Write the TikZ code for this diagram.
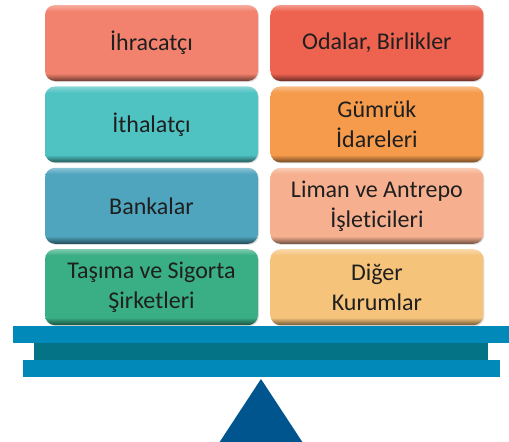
\documentclass[tikz,border=0pt]{standalone}
\usepackage{fontspec}
\setmainfont{Carlito}[Ligatures=NoCommon]
\usepackage{xcolor}
\definecolor{colorIhr}{RGB}{242,130,110}
\definecolor{colorOda}{RGB}{238,99,80}
\definecolor{colorIth}{RGB}{79,194,194}
\definecolor{colorGum}{RGB}{245,155,75}
\definecolor{colorBan}{RGB}{79,164,190}
\definecolor{colorLim}{RGB}{246,176,143}
\definecolor{colorTas}{RGB}{58,174,133}
\definecolor{colorDig}{RGB}{245,195,122}
\definecolor{colorBar}{RGB}{0,137,185}
\definecolor{colorBarDark}{RGB}{3,115,133}
\definecolor{colorTepe}{RGB}{0,85,142}
\colorlet{kurumcolor}{colorIhr}
\usepackage{tikz}
\usetikzlibrary{positioning, shadows}
\pgfdeclareverticalshading[kurumcolor]{kurumshade}{100bp}{%
  color(0bp)=(kurumcolor!45!black); color(25bp)=(kurumcolor!45!black);
  color(30bp)=(kurumcolor); color(71bp)=(kurumcolor);
  color(75bp)=(kurumcolor!65!white); color(100bp)=(kurumcolor!65!white)}
\tikzset{
  kurum/.style={rectangle, rounded corners=10pt, minimum width=213pt, minimum height=76pt,
    inner sep=0pt, align=center, text=black!88, font=\fontsize{24}{30}\selectfont,
    /utils/exec={\colorlet{kurumcolor}{#1}}, shading=kurumshade,
    drop shadow={shadow xshift=1pt, shadow yshift=-1pt, opacity=.25}},
  kiris/.style={rectangle, inner sep=0pt, minimum height=17pt, fill=#1}
}

\begin{document}
\begin{tikzpicture}[x=1pt, y=-1pt, node distance=5pt and 12pt]
\useasboundingbox (0,0) rectangle (509,442);
% kutular
\node[kurum=colorIhr] (ihr) at (151.5,43) {İhracatçı};
\node[kurum=colorOda, right=of ihr] (oda) {Odalar, Birlikler};
\node[kurum=colorIth, below=of ihr] (ith) {İthalatçı};
\node[kurum=colorGum, right=of ith] (gum) {Gümrük\\İdareleri};
\node[kurum=colorBan, below=of ith] (ban) {Bankalar};
\node[kurum=colorLim, right=of ban] (lim) {Liman ve Antrepo\\İşleticileri};
\node[kurum=colorTas, below=of ban] (tas) {Taşıma ve Sigorta\\Şirketleri};
\node[kurum=colorDig, right=of tas] (dig) {Diğer\\Kurumlar};
% terazi
\node[kiris=colorBar, minimum width=496pt] (ust) at (261,334.5) {};
\node[kiris=colorBarDark, minimum width=454pt, below=0pt of ust] (orta) {};
\node[kiris=colorBar, minimum width=477pt, below=-1pt of orta] (alt) {};
\coordinate[below=2pt of alt] (tepe);
\fill[colorTepe] (tepe) -- ++(42,64) -- ++(-84,0) -- cycle;
\end{tikzpicture}
\end{document}
